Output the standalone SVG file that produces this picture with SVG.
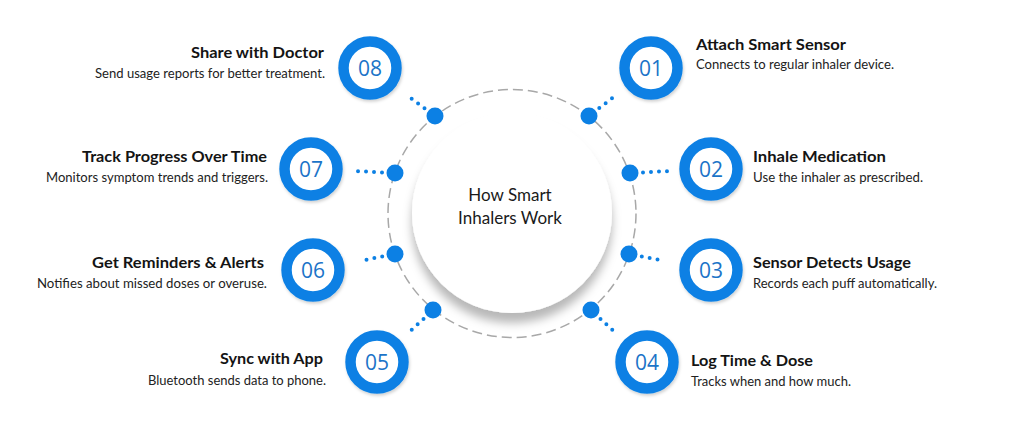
<svg xmlns="http://www.w3.org/2000/svg" width="1024" height="422" viewBox="0 0 1024 422">
<style>
.title{font-family:Lato,"Open Sans",sans-serif;font-weight:700;font-size:15.5px;fill:#141414}
.desc{font-family:Lato,"Open Sans",sans-serif;font-weight:400;font-size:13px;fill:#222}
.num{font-family:"Open Sans",Lato,sans-serif;font-weight:400;font-size:21px;fill:#1b74c8;text-anchor:middle}
.ring{fill:#fff;stroke:#0c80e4;stroke-width:10.5}
.bigdot{fill:#0c80e4}
.dots{stroke:#0c80e4;stroke-width:4;stroke-linecap:round;stroke-dasharray:0 8;fill:none}
.end{text-anchor:end}
.ctext{font-family:Lato,"Open Sans",sans-serif;font-size:17px;fill:#1a1a1a;text-anchor:middle}
</style>
<defs>
<filter id="sh" x="-30%" y="-30%" width="160%" height="170%">
<feDropShadow dx="0" dy="10" stdDeviation="5" flood-color="#000" flood-opacity="0.28"/>
</filter>
<filter id="rs" x="-30%" y="-30%" width="160%" height="160%">
<feDropShadow dx="1" dy="2" stdDeviation="1.5" flood-color="#000" flood-opacity="0.18"/>
</filter>
</defs>
<rect width="1024" height="422" fill="#fff"/>
<circle cx="512" cy="213.5" r="124" fill="none" stroke="#a8a8a8" stroke-width="1.5" stroke-dasharray="10 5"/>
<g id="center">
<circle cx="512" cy="213" r="100" fill="#fff" filter="url(#sh)"/>
<text class="ctext" x="510" y="201">How Smart</text>
<text class="ctext" x="510" y="223.5">Inhalers Work</text>
</g>
<g id="connectors">
<line class="dots" x1="599.3" y1="108" x2="618.3" y2="93.4"/>
<line class="dots" x1="643" y1="172.4" x2="667" y2="171.2"/>
<line class="dots" x1="641.8" y1="256.5" x2="665.3" y2="261.1"/>
<line class="dots" x1="600.5" y1="318.9" x2="618.1" y2="335.2"/>
<line class="dots" x1="424.5" y1="108.3" x2="405.3" y2="94"/>
<line class="dots" x1="382" y1="172.4" x2="358" y2="171.2"/>
<line class="dots" x1="382.2" y1="256.5" x2="358.7" y2="261.2"/>
<line class="dots" x1="423.5" y1="318.9" x2="405.9" y2="335.2"/>
<circle class="bigdot" cx="589" cy="116" r="8.5"/>
<circle class="bigdot" cx="630" cy="173" r="8.5"/>
<circle class="bigdot" cx="629" cy="254" r="8.5"/>
<circle class="bigdot" cx="591" cy="310" r="8.5"/>
<circle class="bigdot" cx="435" cy="116" r="8.5"/>
<circle class="bigdot" cx="395" cy="173" r="8.5"/>
<circle class="bigdot" cx="395" cy="254" r="8.5"/>
<circle class="bigdot" cx="433" cy="310" r="8.5"/>
</g>
<g id="step01">
<circle class="ring" cx="651" cy="68" r="26.5" filter="url(#rs)"/>
<text class="num" x="651" y="75.5">01</text>
<text class="title" x="696" y="50" textLength="150" lengthAdjust="spacingAndGlyphs">Attach Smart Sensor</text>
<text class="desc" x="696" y="69" textLength="198" lengthAdjust="spacingAndGlyphs">Connects to regular inhaler device.</text>
</g>
<g id="step02">
<circle class="ring" cx="711" cy="169" r="26.5" filter="url(#rs)"/>
<text class="num" x="711" y="176.5">02</text>
<text class="title" x="753" y="162" textLength="133" lengthAdjust="spacingAndGlyphs">Inhale Medication</text>
<text class="desc" x="753" y="182" textLength="170" lengthAdjust="spacingAndGlyphs">Use the inhaler as prescribed.</text>
</g>
<g id="step03">
<circle class="ring" cx="711" cy="270" r="26.5" filter="url(#rs)"/>
<text class="num" x="711" y="277.5">03</text>
<text class="title" x="753" y="268" textLength="158" lengthAdjust="spacingAndGlyphs">Sensor Detects Usage</text>
<text class="desc" x="753" y="288" textLength="184" lengthAdjust="spacingAndGlyphs">Records each puff automatically.</text>
</g>
<g id="step04">
<circle class="ring" cx="647" cy="362" r="26.5" filter="url(#rs)"/>
<text class="num" x="647" y="369.5">04</text>
<text class="title" x="691" y="366" textLength="122" lengthAdjust="spacingAndGlyphs">Log Time &amp; Dose</text>
<text class="desc" x="691" y="386" textLength="160" lengthAdjust="spacingAndGlyphs">Tracks when and how much.</text>
</g>
<g id="step05">
<circle class="ring" cx="377" cy="362" r="26.5" filter="url(#rs)"/>
<text class="num" x="377" y="369.5">05</text>
<text class="title end" x="323" y="364" textLength="103" lengthAdjust="spacingAndGlyphs">Sync with App</text>
<text class="desc end" x="326" y="385" textLength="178" lengthAdjust="spacingAndGlyphs">Bluetooth sends data to phone.</text>
</g>
<g id="step06">
<circle class="ring" cx="313" cy="270" r="26.5" filter="url(#rs)"/>
<text class="num" x="313" y="277.5">06</text>
<text class="title end" x="264" y="268" textLength="172" lengthAdjust="spacingAndGlyphs">Get Reminders &amp; Alerts</text>
<text class="desc end" x="267" y="288" textLength="230" lengthAdjust="spacingAndGlyphs">Notifies about missed doses or overuse.</text>
</g>
<g id="step07">
<circle class="ring" cx="311" cy="169" r="26.5" filter="url(#rs)"/>
<text class="num" x="311" y="176.5">07</text>
<text class="title end" x="267" y="162" textLength="185" lengthAdjust="spacingAndGlyphs">Track Progress Over Time</text>
<text class="desc end" x="268" y="182" textLength="222" lengthAdjust="spacingAndGlyphs">Monitors symptom trends and triggers.</text>
</g>
<g id="step08">
<circle class="ring" cx="370" cy="68" r="26.5" filter="url(#rs)"/>
<text class="num" x="370" y="75.5">08</text>
<text class="title end" x="324" y="58" textLength="133" lengthAdjust="spacingAndGlyphs">Share with Doctor</text>
<text class="desc end" x="325" y="78" textLength="230" lengthAdjust="spacingAndGlyphs">Send usage reports for better treatment.</text>
</g>
</svg>
